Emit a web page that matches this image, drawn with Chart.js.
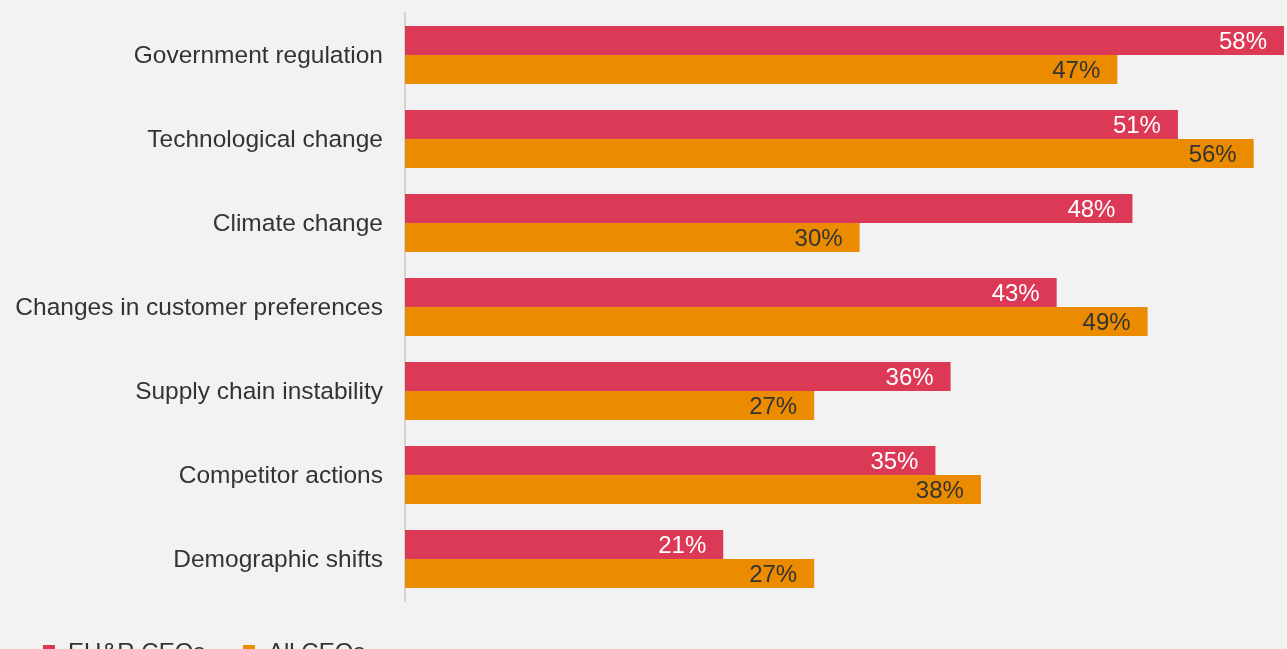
<!DOCTYPE html>
<html>
<head>
<meta charset="utf-8">
<script src="https://cdn.jsdelivr.net/npm/chart.js@4/dist/chart.umd.min.js"></script>
<style>
  html, body { margin: 0; padding: 0; background: #f2f2f2; overflow: hidden; }
  #wrap { position: relative; width: 1287px; height: 649px; }
  #legenda { position: absolute; left: 43px; top: 640px; font-family: 'Liberation Sans', Arial, sans-serif; font-size: 24px; line-height: 1; color: #333; white-space: nowrap; }
  #legenda .item { display: inline-block; width: 200px; position: relative; padding-left: 25px; box-sizing: border-box; }
  #legenda .box { position: absolute; left: 0; top: 5px; width: 12px; height: 12px; }
</style>
</head>
<body>
<div id="wrap">
  <canvas id="graf" width="1287" height="649"></canvas>
  <div id="legenda"></div>
</div>
<script>
// Dados do gráfico
const categorias = ['Government regulation', 'Technological change', 'Climate change', 'Changes in customer preferences', 'Supply chain instability', 'Competitor actions', 'Demographic shifts']
const euR = [58, 51, 48, 43, 36, 35, 21]
const todos = [47, 56, 30, 49, 27, 38, 27]
const series = ['EU&R CEOs', 'All CEOs']

const vermelho = '#db3956'
const laranja = '#eb8c00'
const fonte = "'Liberation Sans', Arial, sans-serif"

// rótulos dentro da ponta das barras
const rotulos = {
    id: 'rotulos',
    afterDatasetsDraw(chart) {
        const c = chart.ctx
        c.save()
        c.font = '24px ' + fonte
        c.textAlign = 'right'
        c.textBaseline = 'middle'
        chart.data.datasets.forEach((ds, i) => {
            c.fillStyle = i === 0 ? '#ffffff' : '#333333'
            chart.getDatasetMeta(i).data.forEach((bar, j) => {
                c.fillText(ds.data[j] + '%', bar.x - 17, bar.y + 2)
            })
        })
        c.restore()
    }
}

let ctx = document.getElementById('graf').getContext('2d')

const config = {
    type: 'bar',
    data: {
        labels: categorias,
        datasets: [
            { label: series[0], data: euR, backgroundColor: vermelho, categoryPercentage: 0.69, barPercentage: 1 },
            { label: series[1], data: todos, backgroundColor: laranja, categoryPercentage: 0.69, barPercentage: 1 }
        ]
    },
    options: {
        indexAxis: 'y',
        responsive: false,
        animation: false,
        layout: { padding: { top: 13, right: 3, bottom: 48, left: 0 } },
        plugins: {
            legend: { display: false },
            tooltip: { enabled: false }
        },
        scales: {
            x: { display: false, min: 0, max: 58 },
            y: {
                grid: { display: false, drawTicks: false },
                border: { display: true, color: '#d4d4d4', width: 2 },
                ticks: { color: '#333', padding: 22, labelOffset: 1, font: { family: fonte, size: 24.5 } },
                afterFit: s => { s.width = 405; s.paddingTop = 0; s.paddingBottom = 0 }
            }
        }
    },
    plugins: [rotulos]
}

const grafic = new Chart(ctx, config)

// legenda
const leg = document.getElementById('legenda')
config.data.datasets.forEach(ds => {
    const it = document.createElement('span')
    it.className = 'item'
    it.innerHTML = '<span class="box" style="background:' + ds.backgroundColor + '"></span>'
    it.appendChild(document.createTextNode(ds.label))
    leg.appendChild(it)
})
</script>
</body>
</html>
